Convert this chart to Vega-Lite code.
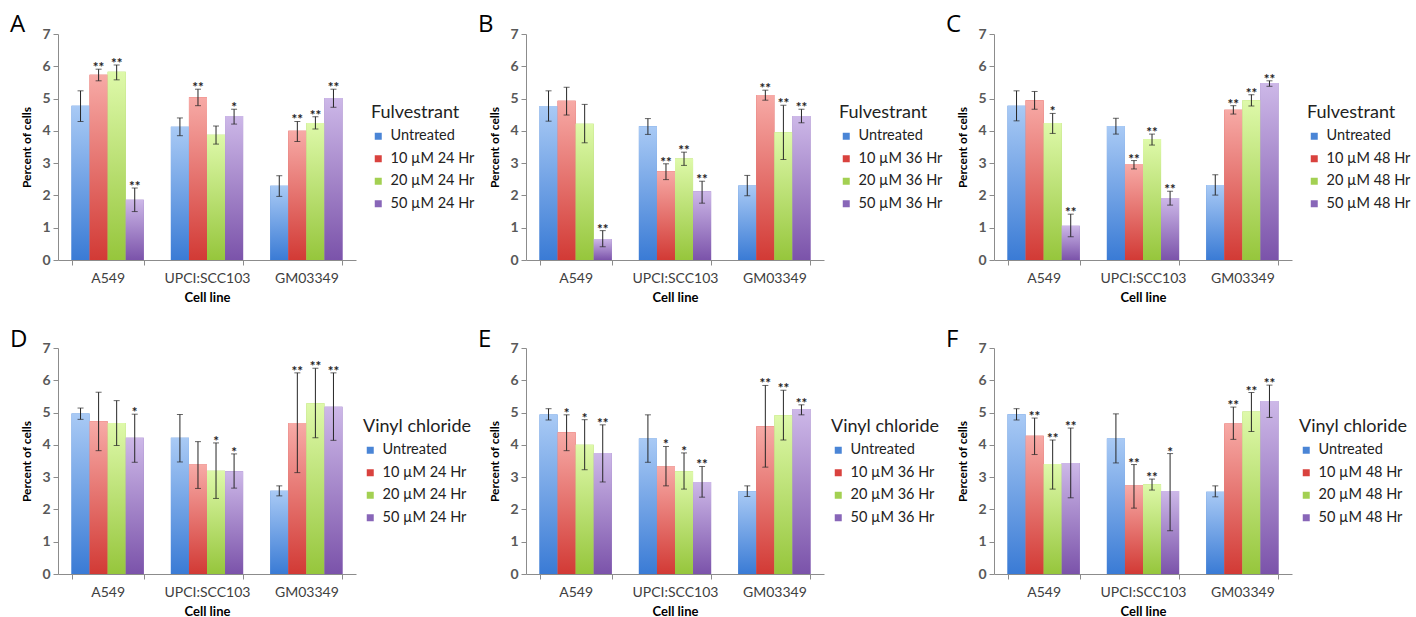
{
"$schema":"https://vega.github.io/schema/vega-lite/v6.json",
"padding":{"left":10,"top":13,"right":5,"bottom":2},
"background":"white",
"data":{"values":[
{"p":"A","c":"A549","k":1,"t":"Untreated","v":4.78,"lo":4.29,"hi":5.24,"s":""},
{"p":"A","c":"A549","k":2,"t":"10 µM 24 Hr","v":5.74,"lo":5.55,"hi":5.91,"s":"**"},
{"p":"A","c":"A549","k":3,"t":"20 µM 24 Hr","v":5.83,"lo":5.58,"hi":6.04,"s":"**"},
{"p":"A","c":"A549","k":4,"t":"50 µM 24 Hr","v":1.87,"lo":1.50,"hi":2.23,"s":"**"},
{"p":"A","c":"UPCI:SCC103","k":1,"t":"Untreated","v":4.13,"lo":3.85,"hi":4.40,"s":""},
{"p":"A","c":"UPCI:SCC103","k":2,"t":"10 µM 24 Hr","v":5.04,"lo":4.78,"hi":5.29,"s":"**"},
{"p":"A","c":"UPCI:SCC103","k":3,"t":"20 µM 24 Hr","v":3.88,"lo":3.59,"hi":4.15,"s":""},
{"p":"A","c":"UPCI:SCC103","k":4,"t":"50 µM 24 Hr","v":4.46,"lo":4.21,"hi":4.67,"s":"*"},
{"p":"A","c":"GM03349","k":1,"t":"Untreated","v":2.30,"lo":1.97,"hi":2.61,"s":""},
{"p":"A","c":"GM03349","k":2,"t":"10 µM 24 Hr","v":4.00,"lo":3.67,"hi":4.29,"s":"**"},
{"p":"A","c":"GM03349","k":3,"t":"20 µM 24 Hr","v":4.24,"lo":4.06,"hi":4.44,"s":"**"},
{"p":"A","c":"GM03349","k":4,"t":"50 µM 24 Hr","v":5.02,"lo":4.73,"hi":5.29,"s":"**"},
{"p":"B","c":"A549","k":1,"t":"Untreated","v":4.77,"lo":4.30,"hi":5.24,"s":""},
{"p":"B","c":"A549","k":2,"t":"10 µM 36 Hr","v":4.93,"lo":4.49,"hi":5.35,"s":""},
{"p":"B","c":"A549","k":3,"t":"20 µM 36 Hr","v":4.22,"lo":3.63,"hi":4.82,"s":""},
{"p":"B","c":"A549","k":4,"t":"50 µM 36 Hr","v":0.65,"lo":0.41,"hi":0.91,"s":"**"},
{"p":"B","c":"UPCI:SCC103","k":1,"t":"Untreated","v":4.14,"lo":3.89,"hi":4.38,"s":""},
{"p":"B","c":"UPCI:SCC103","k":2,"t":"10 µM 36 Hr","v":2.75,"lo":2.49,"hi":2.98,"s":"**"},
{"p":"B","c":"UPCI:SCC103","k":3,"t":"20 µM 36 Hr","v":3.14,"lo":2.93,"hi":3.34,"s":"**"},
{"p":"B","c":"UPCI:SCC103","k":4,"t":"50 µM 36 Hr","v":2.13,"lo":1.76,"hi":2.44,"s":"**"},
{"p":"B","c":"GM03349","k":1,"t":"Untreated","v":2.31,"lo":1.99,"hi":2.62,"s":""},
{"p":"B","c":"GM03349","k":2,"t":"10 µM 36 Hr","v":5.11,"lo":4.95,"hi":5.26,"s":"**"},
{"p":"B","c":"GM03349","k":3,"t":"20 µM 36 Hr","v":3.96,"lo":3.11,"hi":4.79,"s":"**"},
{"p":"B","c":"GM03349","k":4,"t":"50 µM 36 Hr","v":4.46,"lo":4.25,"hi":4.67,"s":"**"},
{"p":"C","c":"A549","k":1,"t":"Untreated","v":4.78,"lo":4.31,"hi":5.24,"s":""},
{"p":"C","c":"A549","k":2,"t":"10 µM 48 Hr","v":4.95,"lo":4.67,"hi":5.22,"s":""},
{"p":"C","c":"A549","k":3,"t":"20 µM 48 Hr","v":4.24,"lo":3.92,"hi":4.54,"s":"*"},
{"p":"C","c":"A549","k":4,"t":"50 µM 48 Hr","v":1.06,"lo":0.72,"hi":1.42,"s":"**"},
{"p":"C","c":"UPCI:SCC103","k":1,"t":"Untreated","v":4.15,"lo":3.90,"hi":4.39,"s":""},
{"p":"C","c":"UPCI:SCC103","k":2,"t":"10 µM 48 Hr","v":2.97,"lo":2.82,"hi":3.08,"s":"**"},
{"p":"C","c":"UPCI:SCC103","k":3,"t":"20 µM 48 Hr","v":3.75,"lo":3.56,"hi":3.90,"s":"**"},
{"p":"C","c":"UPCI:SCC103","k":4,"t":"50 µM 48 Hr","v":1.92,"lo":1.70,"hi":2.13,"s":"**"},
{"p":"C","c":"GM03349","k":1,"t":"Untreated","v":2.32,"lo":2.01,"hi":2.64,"s":""},
{"p":"C","c":"GM03349","k":2,"t":"10 µM 48 Hr","v":4.65,"lo":4.52,"hi":4.78,"s":"**"},
{"p":"C","c":"GM03349","k":3,"t":"20 µM 48 Hr","v":4.95,"lo":4.77,"hi":5.12,"s":"**"},
{"p":"C","c":"GM03349","k":4,"t":"50 µM 48 Hr","v":5.48,"lo":5.38,"hi":5.55,"s":"**"},
{"p":"D","c":"A549","k":1,"t":"Untreated","v":4.97,"lo":4.79,"hi":5.14,"s":""},
{"p":"D","c":"A549","k":2,"t":"10 µM 24 Hr","v":4.73,"lo":3.82,"hi":5.63,"s":""},
{"p":"D","c":"A549","k":3,"t":"20 µM 24 Hr","v":4.68,"lo":3.98,"hi":5.37,"s":""},
{"p":"D","c":"A549","k":4,"t":"50 µM 24 Hr","v":4.22,"lo":3.46,"hi":4.95,"s":"*"},
{"p":"D","c":"UPCI:SCC103","k":1,"t":"Untreated","v":4.22,"lo":3.47,"hi":4.94,"s":""},
{"p":"D","c":"UPCI:SCC103","k":2,"t":"10 µM 24 Hr","v":3.39,"lo":2.65,"hi":4.10,"s":""},
{"p":"D","c":"UPCI:SCC103","k":3,"t":"20 µM 24 Hr","v":3.20,"lo":2.34,"hi":4.06,"s":"*"},
{"p":"D","c":"UPCI:SCC103","k":4,"t":"50 µM 24 Hr","v":3.18,"lo":2.66,"hi":3.72,"s":"*"},
{"p":"D","c":"GM03349","k":1,"t":"Untreated","v":2.58,"lo":2.42,"hi":2.73,"s":""},
{"p":"D","c":"GM03349","k":2,"t":"10 µM 24 Hr","v":4.68,"lo":3.14,"hi":6.23,"s":"**"},
{"p":"D","c":"GM03349","k":3,"t":"20 µM 24 Hr","v":5.29,"lo":4.22,"hi":6.37,"s":"**"},
{"p":"D","c":"GM03349","k":4,"t":"50 µM 24 Hr","v":5.18,"lo":4.14,"hi":6.23,"s":"**"},
{"p":"E","c":"A549","k":1,"t":"Untreated","v":4.94,"lo":4.77,"hi":5.12,"s":""},
{"p":"E","c":"A549","k":2,"t":"10 µM 36 Hr","v":4.39,"lo":3.82,"hi":4.93,"s":"*"},
{"p":"E","c":"A549","k":3,"t":"20 µM 36 Hr","v":4.00,"lo":3.23,"hi":4.78,"s":"*"},
{"p":"E","c":"A549","k":4,"t":"50 µM 36 Hr","v":3.75,"lo":2.85,"hi":4.62,"s":"**"},
{"p":"E","c":"UPCI:SCC103","k":1,"t":"Untreated","v":4.20,"lo":3.46,"hi":4.93,"s":""},
{"p":"E","c":"UPCI:SCC103","k":2,"t":"10 µM 36 Hr","v":3.33,"lo":2.73,"hi":3.95,"s":"*"},
{"p":"E","c":"UPCI:SCC103","k":3,"t":"20 µM 36 Hr","v":3.18,"lo":2.63,"hi":3.75,"s":"*"},
{"p":"E","c":"UPCI:SCC103","k":4,"t":"50 µM 36 Hr","v":2.85,"lo":2.38,"hi":3.33,"s":"**"},
{"p":"E","c":"GM03349","k":1,"t":"Untreated","v":2.56,"lo":2.40,"hi":2.73,"s":""},
{"p":"E","c":"GM03349","k":2,"t":"10 µM 36 Hr","v":4.58,"lo":3.31,"hi":5.84,"s":"**"},
{"p":"E","c":"GM03349","k":3,"t":"20 µM 36 Hr","v":4.92,"lo":4.15,"hi":5.69,"s":"**"},
{"p":"E","c":"GM03349","k":4,"t":"50 µM 36 Hr","v":5.11,"lo":4.93,"hi":5.24,"s":"**"},
{"p":"F","c":"A549","k":1,"t":"Untreated","v":4.95,"lo":4.77,"hi":5.12,"s":""},
{"p":"F","c":"A549","k":2,"t":"10 µM 48 Hr","v":4.28,"lo":3.70,"hi":4.83,"s":"**"},
{"p":"F","c":"A549","k":3,"t":"20 µM 48 Hr","v":3.41,"lo":2.63,"hi":4.15,"s":"**"},
{"p":"F","c":"A549","k":4,"t":"50 µM 48 Hr","v":3.44,"lo":2.36,"hi":4.52,"s":"**"},
{"p":"F","c":"UPCI:SCC103","k":1,"t":"Untreated","v":4.20,"lo":3.44,"hi":4.96,"s":""},
{"p":"F","c":"UPCI:SCC103","k":2,"t":"10 µM 48 Hr","v":2.74,"lo":2.04,"hi":3.39,"s":"**"},
{"p":"F","c":"UPCI:SCC103","k":3,"t":"20 µM 48 Hr","v":2.78,"lo":2.60,"hi":2.94,"s":"**"},
{"p":"F","c":"UPCI:SCC103","k":4,"t":"50 µM 48 Hr","v":2.57,"lo":1.34,"hi":3.73,"s":"*"},
{"p":"F","c":"GM03349","k":1,"t":"Untreated","v":2.55,"lo":2.39,"hi":2.73,"s":""},
{"p":"F","c":"GM03349","k":2,"t":"10 µM 48 Hr","v":4.66,"lo":4.17,"hi":5.17,"s":"**"},
{"p":"F","c":"GM03349","k":3,"t":"20 µM 48 Hr","v":5.03,"lo":4.41,"hi":5.62,"s":"**"},
{"p":"F","c":"GM03349","k":4,"t":"50 µM 48 Hr","v":5.36,"lo":4.85,"hi":5.85,"s":"**"}
]},
"columns":3,
"bounds":"flush",
"spacing":{"row":88,"column":170},
"resolve":{"scale":{"color":"independent"},"legend":{"color":"independent"}},
"concat":[
{"width":298,"height":226,"title":{"text":"A","offset":-10},"transform":[{"filter":"datum.p==='A'"}],
 "encoding":{"x":{"field":"c","type":"nominal","sort":["A549","UPCI:SCC103","GM03349"],"scale":{"paddingInner":0.273,"paddingOuter":0.136},"title":"Cell line"},"xOffset":{"field":"k","type":"nominal","scale":{"paddingInner":0,"paddingOuter":0}}},
 "layer":[
  {"mark":{"type":"bar"},"encoding":{"y":{"field":"v","type":"quantitative","scale":{"domain":[0,7],"nice":false},"title":"Percent of cells"},"color":{"field":"t","type":"nominal","sort":{"field":"k","op":"min"},"legend":{"title":"Fulvestrant"}}}},
  {"mark":{"type":"bar"},"encoding":{"y":{"field":"v","type":"quantitative","title":"Percent of cells"},"fill":{"condition":[{"test":"datum.k==1","value":{"gradient":"linear","x1":0,"y1":0,"x2":0,"y2":1,"stops":[{"offset":0,"color":"#a9caf5"},{"offset":1,"color":"#3a7bd5"}]}},{"test":"datum.k==2","value":{"gradient":"linear","x1":0,"y1":0,"x2":0,"y2":1,"stops":[{"offset":0,"color":"#f7aaa6"},{"offset":1,"color":"#d23a35"}]}},{"test":"datum.k==3","value":{"gradient":"linear","x1":0,"y1":0,"x2":0,"y2":1,"stops":[{"offset":0,"color":"#def9aa"},{"offset":1,"color":"#96c63c"}]}}],"value":{"gradient":"linear","x1":0,"y1":0,"x2":0,"y2":1,"stops":[{"offset":0,"color":"#cdb8e8"},{"offset":1,"color":"#7b53aa"}]}}}},
  {"mark":{"type":"rule","color":"#262626","strokeWidth":1},"encoding":{"y":{"field":"lo","type":"quantitative","title":"Percent of cells"},"y2":{"field":"hi"}}},
  {"mark":{"type":"tick","orient":"horizontal","size":6,"thickness":1,"color":"#262626"},"encoding":{"y":{"field":"lo","type":"quantitative","title":"Percent of cells"}}},
  {"mark":{"type":"tick","orient":"horizontal","size":6,"thickness":1,"color":"#262626"},"encoding":{"y":{"field":"hi","type":"quantitative","title":"Percent of cells"}}},
  {"mark":{"type":"text","font":"Lato","fontWeight":"bold","fontSize":13.5,"baseline":"alphabetic","dy":3,"color":"#222"},"encoding":{"y":{"field":"hi","type":"quantitative","title":"Percent of cells"},"text":{"field":"s"}}}
 ]},
{"width":298,"height":226,"title":{"text":"B","offset":-10},"transform":[{"filter":"datum.p==='B'"}],
 "encoding":{"x":{"field":"c","type":"nominal","sort":["A549","UPCI:SCC103","GM03349"],"scale":{"paddingInner":0.273,"paddingOuter":0.136},"title":"Cell line"},"xOffset":{"field":"k","type":"nominal","scale":{"paddingInner":0,"paddingOuter":0}}},
 "layer":[
  {"mark":{"type":"bar"},"encoding":{"y":{"field":"v","type":"quantitative","scale":{"domain":[0,7],"nice":false},"title":"Percent of cells"},"color":{"field":"t","type":"nominal","sort":{"field":"k","op":"min"},"legend":{"title":"Fulvestrant"}}}},
  {"mark":{"type":"bar"},"encoding":{"y":{"field":"v","type":"quantitative","title":"Percent of cells"},"fill":{"condition":[{"test":"datum.k==1","value":{"gradient":"linear","x1":0,"y1":0,"x2":0,"y2":1,"stops":[{"offset":0,"color":"#a9caf5"},{"offset":1,"color":"#3a7bd5"}]}},{"test":"datum.k==2","value":{"gradient":"linear","x1":0,"y1":0,"x2":0,"y2":1,"stops":[{"offset":0,"color":"#f7aaa6"},{"offset":1,"color":"#d23a35"}]}},{"test":"datum.k==3","value":{"gradient":"linear","x1":0,"y1":0,"x2":0,"y2":1,"stops":[{"offset":0,"color":"#def9aa"},{"offset":1,"color":"#96c63c"}]}}],"value":{"gradient":"linear","x1":0,"y1":0,"x2":0,"y2":1,"stops":[{"offset":0,"color":"#cdb8e8"},{"offset":1,"color":"#7b53aa"}]}}}},
  {"mark":{"type":"rule","color":"#262626","strokeWidth":1},"encoding":{"y":{"field":"lo","type":"quantitative","title":"Percent of cells"},"y2":{"field":"hi"}}},
  {"mark":{"type":"tick","orient":"horizontal","size":6,"thickness":1,"color":"#262626"},"encoding":{"y":{"field":"lo","type":"quantitative","title":"Percent of cells"}}},
  {"mark":{"type":"tick","orient":"horizontal","size":6,"thickness":1,"color":"#262626"},"encoding":{"y":{"field":"hi","type":"quantitative","title":"Percent of cells"}}},
  {"mark":{"type":"text","font":"Lato","fontWeight":"bold","fontSize":13.5,"baseline":"alphabetic","dy":3,"color":"#222"},"encoding":{"y":{"field":"hi","type":"quantitative","title":"Percent of cells"},"text":{"field":"s"}}}
 ]},
{"width":298,"height":226,"title":{"text":"C","offset":-10},"transform":[{"filter":"datum.p==='C'"}],
 "encoding":{"x":{"field":"c","type":"nominal","sort":["A549","UPCI:SCC103","GM03349"],"scale":{"paddingInner":0.273,"paddingOuter":0.136},"title":"Cell line"},"xOffset":{"field":"k","type":"nominal","scale":{"paddingInner":0,"paddingOuter":0}}},
 "layer":[
  {"mark":{"type":"bar"},"encoding":{"y":{"field":"v","type":"quantitative","scale":{"domain":[0,7],"nice":false},"title":"Percent of cells"},"color":{"field":"t","type":"nominal","sort":{"field":"k","op":"min"},"legend":{"title":"Fulvestrant"}}}},
  {"mark":{"type":"bar"},"encoding":{"y":{"field":"v","type":"quantitative","title":"Percent of cells"},"fill":{"condition":[{"test":"datum.k==1","value":{"gradient":"linear","x1":0,"y1":0,"x2":0,"y2":1,"stops":[{"offset":0,"color":"#a9caf5"},{"offset":1,"color":"#3a7bd5"}]}},{"test":"datum.k==2","value":{"gradient":"linear","x1":0,"y1":0,"x2":0,"y2":1,"stops":[{"offset":0,"color":"#f7aaa6"},{"offset":1,"color":"#d23a35"}]}},{"test":"datum.k==3","value":{"gradient":"linear","x1":0,"y1":0,"x2":0,"y2":1,"stops":[{"offset":0,"color":"#def9aa"},{"offset":1,"color":"#96c63c"}]}}],"value":{"gradient":"linear","x1":0,"y1":0,"x2":0,"y2":1,"stops":[{"offset":0,"color":"#cdb8e8"},{"offset":1,"color":"#7b53aa"}]}}}},
  {"mark":{"type":"rule","color":"#262626","strokeWidth":1},"encoding":{"y":{"field":"lo","type":"quantitative","title":"Percent of cells"},"y2":{"field":"hi"}}},
  {"mark":{"type":"tick","orient":"horizontal","size":6,"thickness":1,"color":"#262626"},"encoding":{"y":{"field":"lo","type":"quantitative","title":"Percent of cells"}}},
  {"mark":{"type":"tick","orient":"horizontal","size":6,"thickness":1,"color":"#262626"},"encoding":{"y":{"field":"hi","type":"quantitative","title":"Percent of cells"}}},
  {"mark":{"type":"text","font":"Lato","fontWeight":"bold","fontSize":13.5,"baseline":"alphabetic","dy":3,"color":"#222"},"encoding":{"y":{"field":"hi","type":"quantitative","title":"Percent of cells"},"text":{"field":"s"}}}
 ]},
{"width":298,"height":226,"title":{"text":"D","offset":-11},"transform":[{"filter":"datum.p==='D'"}],
 "encoding":{"x":{"field":"c","type":"nominal","sort":["A549","UPCI:SCC103","GM03349"],"scale":{"paddingInner":0.273,"paddingOuter":0.136},"title":"Cell line"},"xOffset":{"field":"k","type":"nominal","scale":{"paddingInner":0,"paddingOuter":0}}},
 "layer":[
  {"mark":{"type":"bar"},"encoding":{"y":{"field":"v","type":"quantitative","scale":{"domain":[0,7],"nice":false},"title":"Percent of cells"},"color":{"field":"t","type":"nominal","sort":{"field":"k","op":"min"},"legend":{"title":"Vinyl chloride","legendX":305}}}},
  {"mark":{"type":"bar"},"encoding":{"y":{"field":"v","type":"quantitative","title":"Percent of cells"},"fill":{"condition":[{"test":"datum.k==1","value":{"gradient":"linear","x1":0,"y1":0,"x2":0,"y2":1,"stops":[{"offset":0,"color":"#a9caf5"},{"offset":1,"color":"#3a7bd5"}]}},{"test":"datum.k==2","value":{"gradient":"linear","x1":0,"y1":0,"x2":0,"y2":1,"stops":[{"offset":0,"color":"#f7aaa6"},{"offset":1,"color":"#d23a35"}]}},{"test":"datum.k==3","value":{"gradient":"linear","x1":0,"y1":0,"x2":0,"y2":1,"stops":[{"offset":0,"color":"#def9aa"},{"offset":1,"color":"#96c63c"}]}}],"value":{"gradient":"linear","x1":0,"y1":0,"x2":0,"y2":1,"stops":[{"offset":0,"color":"#cdb8e8"},{"offset":1,"color":"#7b53aa"}]}}}},
  {"mark":{"type":"rule","color":"#262626","strokeWidth":1},"encoding":{"y":{"field":"lo","type":"quantitative","title":"Percent of cells"},"y2":{"field":"hi"}}},
  {"mark":{"type":"tick","orient":"horizontal","size":6,"thickness":1,"color":"#262626"},"encoding":{"y":{"field":"lo","type":"quantitative","title":"Percent of cells"}}},
  {"mark":{"type":"tick","orient":"horizontal","size":6,"thickness":1,"color":"#262626"},"encoding":{"y":{"field":"hi","type":"quantitative","title":"Percent of cells"}}},
  {"mark":{"type":"text","font":"Lato","fontWeight":"bold","fontSize":13.5,"baseline":"alphabetic","dy":3,"color":"#222"},"encoding":{"y":{"field":"hi","type":"quantitative","title":"Percent of cells"},"text":{"field":"s"}}}
 ]},
{"width":298,"height":226,"title":{"text":"E","offset":-11},"transform":[{"filter":"datum.p==='E'"}],
 "encoding":{"x":{"field":"c","type":"nominal","sort":["A549","UPCI:SCC103","GM03349"],"scale":{"paddingInner":0.273,"paddingOuter":0.136},"title":"Cell line"},"xOffset":{"field":"k","type":"nominal","scale":{"paddingInner":0,"paddingOuter":0}}},
 "layer":[
  {"mark":{"type":"bar"},"encoding":{"y":{"field":"v","type":"quantitative","scale":{"domain":[0,7],"nice":false},"title":"Percent of cells"},"color":{"field":"t","type":"nominal","sort":{"field":"k","op":"min"},"legend":{"title":"Vinyl chloride","legendX":305}}}},
  {"mark":{"type":"bar"},"encoding":{"y":{"field":"v","type":"quantitative","title":"Percent of cells"},"fill":{"condition":[{"test":"datum.k==1","value":{"gradient":"linear","x1":0,"y1":0,"x2":0,"y2":1,"stops":[{"offset":0,"color":"#a9caf5"},{"offset":1,"color":"#3a7bd5"}]}},{"test":"datum.k==2","value":{"gradient":"linear","x1":0,"y1":0,"x2":0,"y2":1,"stops":[{"offset":0,"color":"#f7aaa6"},{"offset":1,"color":"#d23a35"}]}},{"test":"datum.k==3","value":{"gradient":"linear","x1":0,"y1":0,"x2":0,"y2":1,"stops":[{"offset":0,"color":"#def9aa"},{"offset":1,"color":"#96c63c"}]}}],"value":{"gradient":"linear","x1":0,"y1":0,"x2":0,"y2":1,"stops":[{"offset":0,"color":"#cdb8e8"},{"offset":1,"color":"#7b53aa"}]}}}},
  {"mark":{"type":"rule","color":"#262626","strokeWidth":1},"encoding":{"y":{"field":"lo","type":"quantitative","title":"Percent of cells"},"y2":{"field":"hi"}}},
  {"mark":{"type":"tick","orient":"horizontal","size":6,"thickness":1,"color":"#262626"},"encoding":{"y":{"field":"lo","type":"quantitative","title":"Percent of cells"}}},
  {"mark":{"type":"tick","orient":"horizontal","size":6,"thickness":1,"color":"#262626"},"encoding":{"y":{"field":"hi","type":"quantitative","title":"Percent of cells"}}},
  {"mark":{"type":"text","font":"Lato","fontWeight":"bold","fontSize":13.5,"baseline":"alphabetic","dy":3,"color":"#222"},"encoding":{"y":{"field":"hi","type":"quantitative","title":"Percent of cells"},"text":{"field":"s"}}}
 ]},
{"width":298,"height":226,"title":{"text":"F","offset":-11},"transform":[{"filter":"datum.p==='F'"}],
 "encoding":{"x":{"field":"c","type":"nominal","sort":["A549","UPCI:SCC103","GM03349"],"scale":{"paddingInner":0.273,"paddingOuter":0.136},"title":"Cell line"},"xOffset":{"field":"k","type":"nominal","scale":{"paddingInner":0,"paddingOuter":0}}},
 "layer":[
  {"mark":{"type":"bar"},"encoding":{"y":{"field":"v","type":"quantitative","scale":{"domain":[0,7],"nice":false},"title":"Percent of cells"},"color":{"field":"t","type":"nominal","sort":{"field":"k","op":"min"},"legend":{"title":"Vinyl chloride","legendX":305}}}},
  {"mark":{"type":"bar"},"encoding":{"y":{"field":"v","type":"quantitative","title":"Percent of cells"},"fill":{"condition":[{"test":"datum.k==1","value":{"gradient":"linear","x1":0,"y1":0,"x2":0,"y2":1,"stops":[{"offset":0,"color":"#a9caf5"},{"offset":1,"color":"#3a7bd5"}]}},{"test":"datum.k==2","value":{"gradient":"linear","x1":0,"y1":0,"x2":0,"y2":1,"stops":[{"offset":0,"color":"#f7aaa6"},{"offset":1,"color":"#d23a35"}]}},{"test":"datum.k==3","value":{"gradient":"linear","x1":0,"y1":0,"x2":0,"y2":1,"stops":[{"offset":0,"color":"#def9aa"},{"offset":1,"color":"#96c63c"}]}}],"value":{"gradient":"linear","x1":0,"y1":0,"x2":0,"y2":1,"stops":[{"offset":0,"color":"#cdb8e8"},{"offset":1,"color":"#7b53aa"}]}}}},
  {"mark":{"type":"rule","color":"#262626","strokeWidth":1},"encoding":{"y":{"field":"lo","type":"quantitative","title":"Percent of cells"},"y2":{"field":"hi"}}},
  {"mark":{"type":"tick","orient":"horizontal","size":6,"thickness":1,"color":"#262626"},"encoding":{"y":{"field":"lo","type":"quantitative","title":"Percent of cells"}}},
  {"mark":{"type":"tick","orient":"horizontal","size":6,"thickness":1,"color":"#262626"},"encoding":{"y":{"field":"hi","type":"quantitative","title":"Percent of cells"}}},
  {"mark":{"type":"text","font":"Lato","fontWeight":"bold","fontSize":13.5,"baseline":"alphabetic","dy":3,"color":"#222"},"encoding":{"y":{"field":"hi","type":"quantitative","title":"Percent of cells"},"text":{"field":"s"}}}
 ]}
],
"config":{
 "view":{"stroke":null},
 "font":"Lato",
 "axis":{"domainColor":"#8c8c8c","tickColor":"#8c8c8c","grid":false,"labelFont":"Lato","titleFont":"Lato","titleFontWeight":"bold","titleColor":"#000"},
 "axisY":{"values":[0,1,2,3,4,5,6,7],"labelFontSize":14,"labelFontWeight":"bold","labelColor":"#595959","tickSize":5,"labelPadding":3,"titleFontSize":12,"titlePadding":8},
 "axisX":{"labelAngle":0,"labelFontSize":14,"labelColor":"#404040","tickSize":5,"labelPadding":6,"titleFontSize":13,"titlePadding":6,"tickBand":"extent"},
 "legend":{"orient":"none","legendX":313,"legendY":70,"titleFont":"Lato","titleFontSize":18,"titleFontWeight":"normal","titleColor":"#222","labelFont":"Lato","labelFontSize":14.5,"labelColor":"#222","symbolType":"square","symbolSize":49,"symbolStrokeWidth":0,"rowPadding":7.5,"titlePadding":7,"labelOffset":5,"padding":0},
 "title":{"anchor":"start","frame":"group","dx":-48,"fontSize":24,"fontWeight":"normal","font":"Open Sans","baseline":"alphabetic","color":"#000"},
 "range":{"category":["#4a85d6","#d9423e","#a3d052","#8866b8"]}
}
}
